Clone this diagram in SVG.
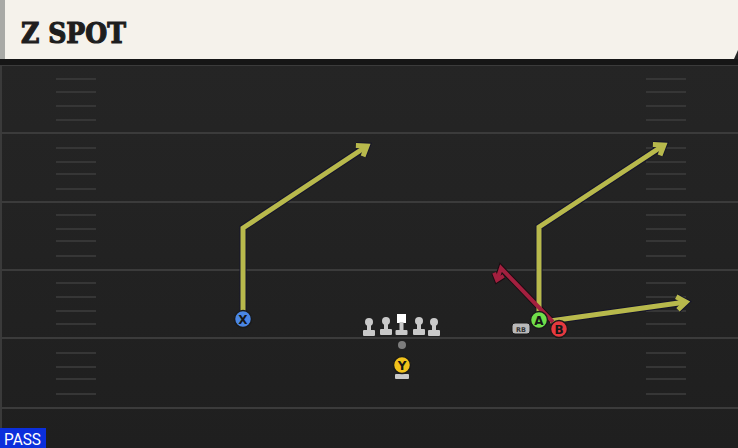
<svg xmlns="http://www.w3.org/2000/svg" width="738" height="448" viewBox="0 0 738 448">
  <defs>
    <style>
      .yard { stroke: #3b3b3b; stroke-width: 2; }
      .hash { stroke: #363636; stroke-width: 2; }
      .route-out { fill: none; stroke: #15152a; stroke-width: 7; stroke-linejoin: miter; }
      .route { fill: none; stroke: #b8b94c; stroke-width: 5; stroke-linejoin: miter; }
      .block-out { fill: none; stroke: #1a0d12; stroke-width: 6; }
      .block { fill: none; stroke: #a3203f; stroke-width: 4; }
      .pl { stroke: #1a1a1a; stroke-width: 1.5; }
      .lbl { font-family: "DejaVu Sans", "Liberation Sans", sans-serif; font-weight: bold; font-size: 12px; fill: #161616; text-anchor: middle; }
      .lineman { fill: #c9c9c9; }
    </style>
    <marker id="arrOut" markerUnits="userSpaceOnUse" markerWidth="30" markerHeight="30" refX="0" refY="0" viewBox="-15 -15 30 30" orient="auto" overflow="visible">
      <path d="M-9,-6.5 L0,0 L-9,6.5" fill="none" stroke="#15152a" stroke-width="7" stroke-linejoin="miter"/>
    </marker>
    <marker id="arr" markerUnits="userSpaceOnUse" markerWidth="30" markerHeight="30" refX="0" refY="0" viewBox="-15 -15 30 30" orient="auto" overflow="visible">
      <path d="M-9,-6.5 L0,0 L-9,6.5" fill="none" stroke="#b8b94c" stroke-width="5" stroke-linejoin="miter"/>
    </marker>
    <marker id="rarrOut" markerUnits="userSpaceOnUse" markerWidth="30" markerHeight="30" refX="0" refY="0" viewBox="-15 -15 30 30" orient="auto" overflow="visible">
      <path d="M-6,-5 L0,0 L-6,5" fill="none" stroke="#1a0d12" stroke-width="6"/>
    </marker>
    <marker id="rarr" markerUnits="userSpaceOnUse" markerWidth="30" markerHeight="30" refX="0" refY="0" viewBox="-15 -15 30 30" orient="auto" overflow="visible">
      <path d="M-6,-5 L0,0 L-6,5" fill="none" stroke="#a3203f" stroke-width="4"/>
    </marker>
    <linearGradient id="fieldg" x1="0" y1="0" x2="0" y2="1">
      <stop offset="0" stop-color="#262626"/>
      <stop offset="1" stop-color="#1f1f1f"/>
    </linearGradient>
  </defs>

  <!-- field -->
  <rect x="0" y="0" width="738" height="448" fill="url(#fieldg)"/>
  <rect x="0" y="60" width="2" height="388" fill="#3a3a3a"/>

  <g id="yardlines">
    <line class="yard" x1="0" y1="65" x2="738" y2="65"/>
    <line class="yard" x1="0" y1="133" x2="738" y2="133"/>
    <line class="yard" x1="0" y1="202" x2="738" y2="202"/>
    <line class="yard" x1="0" y1="270" x2="738" y2="270"/>
    <line class="yard" x1="0" y1="338" x2="738" y2="338"/>
    <line class="yard" x1="0" y1="408" x2="738" y2="408"/>
  </g>

  <g id="hashes">
    <path class="hash" d="M56,79H96M56,92H96M56,106H96M56,120H96M56,148H96M56,162H96M56,174H96M56,189H96M56,215H96M56,229H96M56,241H96M56,256H96M56,283H96M56,297H96M56,311H96M56,324H96M56,353H96M56,367H96M56,379H96M56,394H96"/>
    <path class="hash" d="M646,79H686M646,92H686M646,106H686M646,120H686M646,148H686M646,162H686M646,174H686M646,189H686M646,215H686M646,229H686M646,241H686M646,256H686M646,283H686M646,297H686M646,311H686M646,324H686M646,353H686M646,367H686M646,379H686M646,394H686"/>
  </g>

  <!-- header -->
  <g id="header">
    <rect x="0" y="59" width="738" height="6" fill="#161616"/>
    <path d="M0,0 H738 V50 L734,59 H0 Z" fill="#f5f2eb"/>
    <rect x="0" y="0" width="5" height="59" fill="#a9aaa6"/>
    <text x="21" y="43" font-family="'DejaVu Serif', 'Liberation Serif', serif" font-weight="bold" font-size="28" fill="#1e1e1e" stroke="#1e1e1e" stroke-width="1.2" textLength="105" lengthAdjust="spacingAndGlyphs">Z SPOT</text>
  </g>

  <!-- connectors / routes -->
  <g id="connectors">
    <path class="route-out" d="M243,319 V228 L367,146" marker-end="url(#arrOut)"/>
    <path class="route-out" d="M539,319 V227 L664,145" marker-end="url(#arrOut)"/>
    <path class="route-out" d="M550,321 L686,302" marker-end="url(#arrOut)"/>
    <path class="block-out" d="M553,322 L501,268 L497,280" marker-end="url(#rarrOut)"/>
    <path class="route" d="M243,319 V228 L367,146" marker-end="url(#arr)"/>
    <path class="route" d="M539,319 V227 L664,145" marker-end="url(#arr)"/>
    <path class="route" d="M550,321 L686,302" marker-end="url(#arr)"/>
    <path class="block" d="M553,322 L501,268 L497,280" marker-end="url(#rarr)"/>
  </g>

  <!-- offensive line -->
  <g id="lineman1" class="lineman">
    <circle cx="369" cy="322" r="4"/>
    <rect x="367" y="322" width="4" height="9"/>
    <rect x="363" y="330" width="12" height="6" rx="1"/>
  </g>
  <g id="lineman2" class="lineman">
    <circle cx="386" cy="321" r="4"/>
    <rect x="384" y="321" width="4" height="9"/>
    <rect x="380" y="329" width="12" height="6" rx="1"/>
  </g>
  <g id="center">
    <rect x="397" y="314" width="9" height="9" fill="#ffffff"/>
    <rect x="399.5" y="322" width="4" height="9" fill="#c9c9c9"/>
    <rect x="395.5" y="330" width="12" height="5" rx="1" fill="#c9c9c9"/>
  </g>
  <g id="lineman4" class="lineman">
    <circle cx="419" cy="321" r="4"/>
    <rect x="417" y="321" width="4" height="9"/>
    <rect x="413" y="329" width="12" height="6" rx="1"/>
  </g>
  <g id="lineman5" class="lineman">
    <circle cx="434" cy="322" r="4"/>
    <rect x="432" y="322" width="4" height="9"/>
    <rect x="428" y="330" width="12" height="6" rx="1"/>
  </g>
  <g id="ball">
    <circle cx="402" cy="345" r="4" fill="#7d7d7d"/>
  </g>

  <!-- players -->
  <g id="player-X">
    <circle class="pl" cx="243" cy="319" r="8.5" fill="#4a86e4"/>
    <text class="lbl" x="243" y="323.5">X</text>
  </g>
  <g id="player-Y">
    <rect x="395" y="374" width="14" height="5" rx="1" fill="#c9c9c9"/>
    <circle class="pl" cx="402" cy="365" r="8.5" fill="#f1c21b"/>
    <text class="lbl" x="402" y="369.5">Y</text>
  </g>
  <g id="player-RB">
    <rect x="512" y="323" width="18" height="11" rx="3" fill="#b9b9b9" stroke="#1a1a1a" stroke-width="1"/>
    <text x="521" y="331.5" font-family="'DejaVu Sans', 'Liberation Sans', sans-serif" font-size="6.5" font-weight="bold" fill="#333" text-anchor="middle">RB</text>
  </g>
  <g id="player-A">
    <circle class="pl" cx="539" cy="320" r="8.5" fill="#6fdf4a"/>
    <text class="lbl" x="539" y="324.5">A</text>
  </g>
  <g id="player-B">
    <circle class="pl" cx="559" cy="329" r="8.5" fill="#e6393f"/>
    <text class="lbl" x="559" y="333.5">B</text>
  </g>

  <!-- pass tag -->
  <g id="pass-tag">
    <rect x="0" y="428" width="46" height="20" fill="#0b2fdc"/>
    <text x="4" y="445" font-family="'Roboto', 'Liberation Sans', sans-serif" font-size="16" fill="#ffffff" textLength="37" lengthAdjust="spacingAndGlyphs">PASS</text>
  </g>
</svg>
